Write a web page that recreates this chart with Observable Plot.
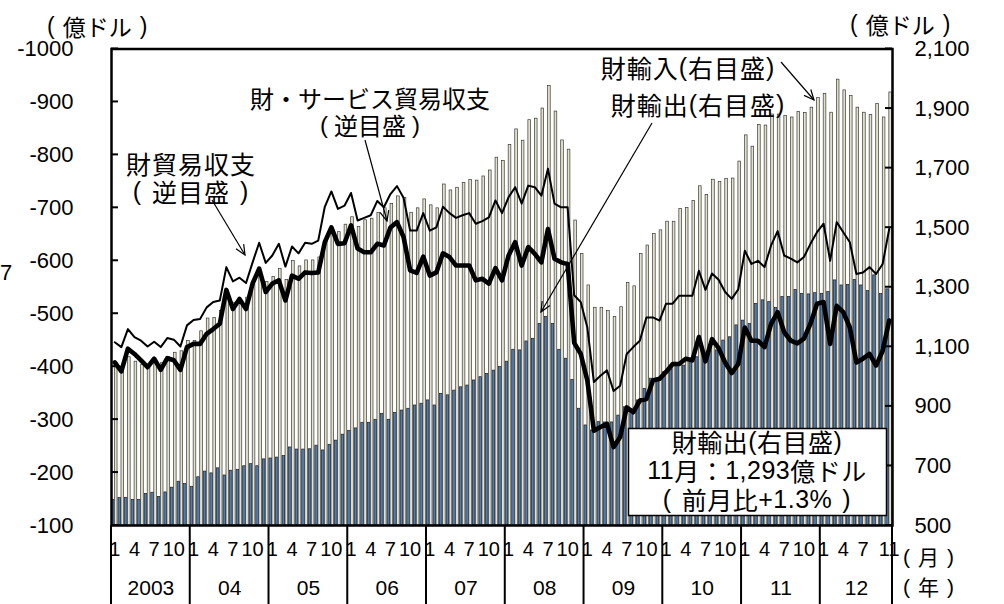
<!DOCTYPE html>
<html><head><meta charset="utf-8">
<script src="https://cdn.jsdelivr.net/npm/d3@7"></script>
<script src="https://cdn.jsdelivr.net/npm/@observablehq/plot@0.6"></script>
<style>
body{margin:0;background:#fff;}
#chart{position:relative;width:1004px;height:604px;overflow:hidden;background:#fff;}
#chart svg{position:absolute;left:0;top:0;}
</style></head><body><div id="chart"></div>
<script>
// ---- data (monthly, Jan 2003 - Nov 2012), 億ドル ----
const years = ["2003","04","05","06","07","08","09","10","11","12"];
const monthTickLabels = [[1,4,7,10],[1,4,7,10],[1,4,7,10],[1,4,7,10],[1,4,7,10],[1,4,7,10],[1,4,7,10],[1,4,7,10],[1,4,7,10],[1,4,7,11]];
const monthsPerYear = [12,12,12,12,12,12,12,12,12,11];
const leftTicks = [-1000,-900,-800,-700,-600,-500,-400,-300,-200,-100];
const rightTicks = [500,700,900,1100,1300,1500,1700,1900,2100];

// 財輸出 (右目盛)
const goodsExports = [
586,592,593,586,586,606,610,596,611,627,647,639,
630,662,681,675,692,668,684,687,699,706,699,722,
725,728,733,762,755,755,756,768,752,771,785,805,
818,826,845,845,855,875,855,878,886,892,903,909,
920,903,942,937,953,964,970,987,998,1009,1020,1032,
1050,1090,1088,1118,1127,1177,1200,1177,1090,1060,989,892,
836,819,847,846,846,869,897,880,920,959,993,993,
1015,1023,1037,1037,1048,1065,1071,1088,1088,1121,1132,1172,
1188,1177,1244,1256,1250,1230,1267,1267,1291,1278,1276,1280,
1278,1284,1323,1306,1308,1325,1306,1287,1340,1277,1293];

// 財輸入 (右目盛)
const goodsImports = [
1045,1035,1065,1050,1040,1038,1050,1045,1066,1080,1085,1120,
1120,1152,1195,1197,1220,1268,1248,1256,1265,1308,1345,1318,
1335,1362,1324,1388,1370,1390,1390,1400,1460,1495,1485,1510,
1535,1502,1525,1530,1550,1565,1580,1605,1600,1550,1565,1595,
1575,1565,1645,1625,1634,1650,1660,1658,1672,1692,1735,1724,
1778,1830,1792,1861,1866,1900,1976,1890,1793,1762,1524,1412,
1306,1231,1231,1220,1200,1233,1314,1303,1412,1440,1479,1491,
1520,1520,1563,1566,1590,1639,1610,1661,1653,1664,1665,1722,
1810,1772,1845,1843,1880,1880,1875,1870,1888,1885,1903,1935,
1949,1886,1997,1961,1942,1903,1886,1878,1916,1870,1954];

// 財貿易収支 (逆目盛, thin line)
const goodsBalance = [
-446,-437,-471,-456,-449,-438,-447,-437,-454,-451,-438,-478,
-488,-490,-512,-522,-525,-588,-561,-568,-558,-597,-634,-596,
-610,-632,-589,-627,-614,-634,-632,-638,-702,-731,-698,-704,
-728,-676,-681,-686,-713,-701,-726,-741,-719,-657,-657,-690,
-657,-663,-702,-690,-681,-686,-690,-670,-675,-682,-714,-690,
-720,-739,-708,-742,-739,-723,-774,-708,-701,-701,-535,-522,
-474,-371,-383,-393,-354,-364,-424,-437,-449,-493,-493,-487,
-519,-519,-534,-534,-534,-581,-545,-576,-564,-541,-528,-546,
-619,-594,-600,-588,-629,-656,-610,-604,-597,-607,-632,-654,
-670,-600,-673,-654,-635,-575,-578,-588,-575,-594,-660];

// 財・サービス貿易収支 (逆目盛, thick line)
const goodsServicesBalance = [
-408,-391,-434,-424,-412,-399,-415,-394,-416,-412,-394,-437,
-443,-443,-462,-471,-481,-545,-509,-528,-509,-557,-585,-541,
-557,-563,-525,-572,-566,-578,-577,-578,-635,-663,-632,-633,
-667,-623,-616,-616,-632,-629,-663,-673,-645,-582,-577,-608,
-572,-578,-614,-607,-591,-591,-591,-563,-566,-557,-586,-563,
-610,-635,-591,-626,-613,-597,-660,-604,-597,-594,-445,-424,
-374,-279,-286,-292,-248,-267,-323,-314,-336,-339,-374,-377,
-390,-405,-405,-415,-412,-456,-410,-452,-435,-408,-388,-405,
-474,-449,-449,-437,-481,-503,-465,-449,-444,-453,-481,-519,
-522,-443,-515,-503,-474,-408,-415,-424,-402,-430,-487];

// ---- tables built from the arrays ----
const N = goodsExports.length;
const rows = d3.range(N).map(i => ({i, exp: goodsExports[i], imp: goodsImports[i], g: goodsBalance[i], gs: goodsServicesBalance[i]}));
const yearStarts = [];
{ let s = 0; monthsPerYear.forEach(n => { yearStarts.push(s); s += n; }); yearStarts.push(s); }
const yearRows = years.map((y, k) => ({label: y, start: yearStarts[k], len: monthsPerYear[k]}));
const monthRows = [];
monthTickLabels.forEach((ms, k) => ms.forEach(m => monthRows.push({i: yearStarts[k] + m - 1, label: String(m)})));

// ---- layout ----
const W = 1004, H = 604, ML = 111, MR = 112, MT = 48.5, MB = 79;
const LATIN = "'Liberation Sans', Arial, 'Noto Sans CJK JP', sans-serif";
const CJK = "'Noto Sans CJK JP', 'Liberation Sans', sans-serif";
const common = {width: W, height: H, marginLeft: ML, marginRight: MR, marginTop: MT, marginBottom: MB,
  style: {background: "transparent", fontFamily: LATIN, fontSize: "22px", color: "#000", overflow: "visible"}};

const chart = document.getElementById("chart");

// bars (right scale)
const barPlot = Plot.plot({...common,
  x: {domain: [0, N], axis: null},
  y: {domain: [rightTicks[0], rightTicks[rightTicks.length - 1]]},
  marks: [
    Plot.rectY(rows, {x1: d => d.i + 0.06, x2: d => d.i + 0.46, y1: rightTicks[0], y2: "exp", fill: "#4a7cbc", stroke: "#1e1e1e", strokeWidth: 0.7}),
    Plot.rectY(rows, {x1: d => d.i + 0.52, x2: d => d.i + 0.92, y1: rightTicks[0], y2: "imp", fill: "#e3e0cc", stroke: "#3a3a36", strokeWidth: 0.7}),
    Plot.axisY({anchor: "right", ticks: rightTicks, tickSize: 0, tickPadding: 22, tickFormat: d3.format(","), fontSize: 22, label: null})
  ]
});
chart.appendChild(barPlot);

// lines (left reversed scale), x-axis labels, frame
const linePlot = Plot.plot({...common,
  x: {domain: [0, N], axis: null},
  y: {domain: [leftTicks[leftTicks.length - 1], leftTicks[0]]},
  marks: [
    Plot.line(rows, {x: d => d.i + 0.5, y: "gs", stroke: "#000", strokeWidth: 4.6, strokeLinejoin: "round"}),
    Plot.line(rows, {x: d => d.i + 0.5, y: "g", stroke: "#000", strokeWidth: 2, strokeLinejoin: "round"}),
    Plot.axisY({anchor: "left", ticks: leftTicks, tickSize: 0, tickPadding: 38, tickFormat: d => String(d), fontSize: 22, label: null}),
    Plot.text(monthRows, {x: d => d.i + 0.5, text: "label", frameAnchor: "bottom", dy: 30, fontSize: 20}),
    Plot.text(yearRows, {x: d => d.start + d.len / 2, text: "label", frameAnchor: "bottom", dy: 69, fontSize: 21}),
    Plot.frame({stroke: "#000", strokeWidth: 2.5})
  ]
});
chart.appendChild(linePlot);

// ---- overlay: inward ticks, year separators, annotations ----
const xs = linePlot.scale("x"), yl = linePlot.scale("y"), yr = barPlot.scale("y");
const ov = d3.select(chart).append("svg").attr("width", W).attr("height", H);

leftTicks.forEach(v => ov.append("line").attr("x1", ML).attr("x2", ML + 7)
  .attr("y1", yl.apply(v)).attr("y2", yl.apply(v)).attr("stroke", "#000").attr("stroke-width", 2));
rightTicks.forEach(v => ov.append("line").attr("x1", W - MR - 7).attr("x2", W - MR)
  .attr("y1", yr.apply(v)).attr("y2", yr.apply(v)).attr("stroke", "#000").attr("stroke-width", 2));
yearStarts.forEach(b => ov.append("line").attr("x1", xs.apply(b)).attr("x2", xs.apply(b))
  .attr("y1", H - MB).attr("y2", H).attr("stroke", "#000").attr("stroke-width", 2));

// lines: array of lines; each line is an array of [text, family, dx]
function block(x, y, lineGap, lines, size, anchor = "middle", spacing = 0) {
  const t = ov.append("text").attr("text-anchor", anchor)
    .attr("dominant-baseline", "central").attr("font-size", size)
    .attr("letter-spacing", spacing).attr("fill", "#000");
  lines.forEach((pieces, li) => {
    pieces.forEach(([s, f, dx], pi) => {
      const sp = t.append("tspan").attr("font-family", f).text(s);
      if (pi === 0) sp.attr("x", x).attr("y", y + li * lineGap);
      if (dx) sp.attr("dx", dx);
    });
  });
}
// Japanese text wrapped in spaced parentheses, as in the reference
const par = (inner, gap) => [["(", LATIN], ...inner.map((p, k) => k === 0 ? [p[0], p[1], gap] : p), [")", LATIN, gap]];
const J = s => [s, CJK];
const Lt = s => [s, LATIN];

function arrow(x1, y1, x2, y2) {
  ov.append("line").attr("x1", x1).attr("y1", y1).attr("x2", x2).attr("y2", y2)
    .attr("stroke", "#000").attr("stroke-width", 1.2);
  const a = Math.atan2(y2 - y1, x2 - x1), L = 11, s = 0.42;
  const p = `M${x2 - L * Math.cos(a - s)},${y2 - L * Math.sin(a - s)}L${x2},${y2}L${x2 - L * Math.cos(a + s)},${y2 - L * Math.sin(a + s)}`;
  ov.append("path").attr("d", p).attr("fill", "none").attr("stroke", "#000").attr("stroke-width", 1.2);
}

block(47, 26, 0, [par([J("億ドル")], 8)], 23, "start");
block(850, 24, 0, [par([J("億ドル")], 8)], 23, "start");
block(0, 272, 0, [[Lt("7")]], 22, "start");

block(370, 97, 27, [[J("財・サービス貿易収支")], par([J("逆目盛")], 6)], 24);
arrow(365, 140, 387, 221);

block(191, 163, 28, [[J("財貿易収支")], par([J("逆目盛")], 10)], 25, "middle", 1);
arrow(212, 200, 245, 255);

block(688, 67, 37, [[J("財輸入"), Lt("("), J("右目盛"), Lt(")")]], 25, "middle", 1);
arrow(781, 62, 814, 100);
block(698, 104, 0, [[J("財輸出"), Lt("("), J("右目盛"), Lt(")")]], 25, "middle", 1);
arrow(652, 123, 541, 312);

ov.append("rect").attr("x", 628.5).attr("y", 428.5).attr("width", 258).attr("height", 87)
  .attr("fill", "#fff").attr("stroke", "#000").attr("stroke-width", 1.5);
block(757, 441, 29, [
  [J("財輸出"), Lt("("), J("右目盛"), Lt(")")],
  [Lt("11"), J("月："), Lt("1,293"), J("億ドル")],
  par([J("前月比"), Lt("+1.3%")], 10)
], 25, "middle", 0.5);

block(903, 556, 30, [par([J("月")], 8), par([J("年")], 8)], 21, "start");
</script></body></html>
